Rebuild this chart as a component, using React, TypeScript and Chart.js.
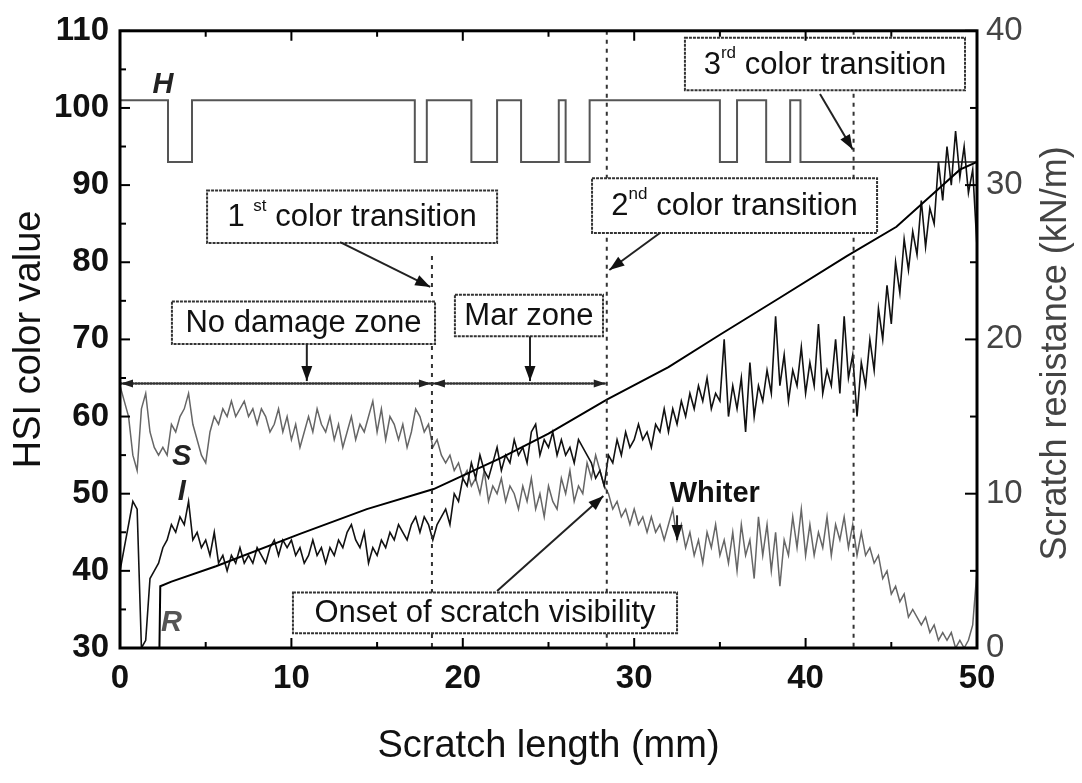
import React, { useEffect, useRef } from "react";
import { Chart, registerables } from "chart.js";

Chart.register(...registerables);

const FONT = '"Liberation Sans", Arial, Helvetica, sans-serif';

// Sampling grid of the S and I traces (mm between samples)
const TRACE_STEP_MM = 0.25;

// I (intensity) trace, HSI colour value, one sample every 0.25 mm from 0 to 50 mm
const I_VALUES = [
  40, 43, 46, 49, 48, 30, 31, 39,
  40, 41, 43, 44, 46, 45, 47, 46,
  49, 44, 45, 43, 44, 42, 45, 41,
  42, 40, 42, 41, 43, 41, 42, 41,
  43, 42, 41, 43, 44, 42, 44, 43,
  44, 42, 43, 41, 42, 44, 42, 43,
  41, 43, 42, 44, 43, 45, 46, 44,
  43, 45, 41, 43, 42, 44, 43, 45,
  44, 46, 45, 44, 46, 47, 45, 47,
  46, 44, 46, 47, 48, 46, 50, 49,
  52, 51, 54, 52, 55, 53, 52, 54,
  56, 53, 55, 54, 57, 55, 56, 54,
  58, 59, 55, 57, 56, 58, 55, 57,
  55, 56, 54, 57, 56, 55, 54, 52,
  53, 51, 55, 54, 57, 55, 58, 56,
  57, 59, 57, 58, 56, 59, 58, 61,
  58, 61, 59, 62, 60, 63, 61, 64,
  62, 65, 61, 63, 62, 70, 60, 64,
  61, 65, 58, 67, 60, 64, 62, 66,
  63, 73, 64, 68, 62, 66, 64, 69,
  63, 67, 64, 72, 63, 66, 64, 70,
  63, 73, 65, 68, 60, 67, 64, 70,
  66, 74, 70, 77, 72, 80, 76, 83,
  79, 84, 81, 88, 82, 87, 85, 93,
  88, 95, 90, 97, 91, 95, 89, 92,
  82,
];

// S (saturation) trace, same sampling grid
const S_VALUES = [
  64, 62, 60, 55, 53, 61, 63, 58,
  56, 55, 56, 55, 59, 58, 60, 61,
  63, 59, 57, 55, 54, 58, 60, 59,
  61, 60, 62, 60, 61, 62, 60, 61,
  59, 61, 60, 58, 59, 61, 58, 60,
  57, 59, 56, 58, 60, 58, 61, 59,
  58, 60, 57, 59, 56, 58, 60, 57,
  59, 58, 60, 62, 58, 61, 57, 60,
  59, 57, 59, 56, 58, 61, 60, 58,
  59, 56, 57, 55, 54, 55, 53, 54,
  52, 53, 51, 52, 50, 53, 49, 51,
  50, 52, 49, 51, 50, 48, 51, 49,
  52, 48, 50, 47, 51, 49, 48, 52,
  50, 53, 49, 51, 50, 54, 52, 55,
  53, 51, 50, 48, 49, 47, 48, 46,
  48, 46, 47, 45, 47, 45, 46, 44,
  46, 48, 44, 46, 43, 45, 42, 44,
  41, 45, 43, 46, 42, 44, 41, 45,
  40, 46, 42, 44, 39, 47, 42, 46,
  40, 45, 38, 44, 42, 47, 43, 48,
  42, 46, 42, 45, 43, 47, 42, 46,
  44, 47, 43, 46, 42, 45, 42, 43,
  41, 42, 39, 40, 37, 38, 36, 37,
  34, 35, 34, 33, 34, 32, 33, 31,
  32, 31, 32, 30, 31, 30, 31, 33,
  40,
];

// R: scratch resistance (kN/m) on the right axis
const R_LENGTH = [0, 2.3, 2.35, 3, 5.6, 10.5, 14.4, 18.3, 22.2, 25, 28.4, 32, 35, 38.5, 42.4, 45.3, 47.7, 49, 50];
const R_RESISTANCE = [0, 0, 4.0, 4.3, 5.3, 7.4, 9.0, 10.3, 12.3, 13.9, 16.1, 18.2, 20.3, 22.7, 25.4, 27.3, 29.7, 31.0, 31.5];

// H (hue) step trace
const H_LENGTH = [0, 2.8, 4.2, 17.2, 17.9, 20.5, 22.0, 23.4, 25.6, 26.0, 27.4, 35.0, 36.0, 37.7, 39.1, 39.7, 50];
const H_VALUES = [101, 93, 101, 93, 101, 93, 101, 93, 101, 93, 101, 93, 101, 93, 101, 93, 93];

// Tick labels
const X_TICKS = [0, 10, 20, 30, 40, 50];
const HSI_TICKS = [30, 40, 50, 60, 70, 80, 90, 100, 110];
const R_TICKS = [0, 10, 20, 30, 40];

// Annotations (data coordinates: x in mm, y in HSI units)
const V_LINES = [
  { x: 18.2, y0: 80.8, y1: 30 },
  { x: 28.4, y0: 110, y1: 30 },
  { x: 42.8, y0: 110, y1: 30 },
];

type Run = { t: string; sup?: boolean };
const BOXES: { x0: number; x1: number; y0: number; y1: number; runs: Run[] }[] = [
  { x0: 5.08, x1: 22.0, y0: 89.3, y1: 82.5, runs: [{ t: "1 " }, { t: "st", sup: true }, { t: " color transition" }] },
  { x0: 27.54, x1: 44.17, y0: 90.9, y1: 83.8, runs: [{ t: "2" }, { t: "nd", sup: true }, { t: " color transition" }] },
  { x0: 32.96, x1: 49.3, y0: 109.1, y1: 102.3, runs: [{ t: "3" }, { t: "rd", sup: true }, { t: " color transition" }] },
  { x0: 3.03, x1: 18.38, y0: 74.9, y1: 69.4, runs: [{ t: "No damage zone" }] },
  { x0: 19.54, x1: 28.18, y0: 75.8, y1: 70.4, runs: [{ t: "Mar zone" }] },
  { x0: 10.09, x1: 32.5, y0: 37.2, y1: 31.9, runs: [{ t: "Onset of scratch visibility" }] },
];

const ARROWS = [
  { x0: 12.84, y0: 82.6, x1: 18.1, y1: 76.8 },
  { x0: 31.5, y0: 83.8, x1: 28.55, y1: 79.0 },
  { x0: 40.84, y0: 101.8, x1: 42.75, y1: 94.6 },
  { x0: 10.9, y0: 69.4, x1: 10.9, y1: 64.6 },
  { x0: 23.92, y0: 70.4, x1: 23.92, y1: 64.6 },
  { x0: 22.0, y0: 37.4, x1: 28.2, y1: 49.7 },
  { x0: 32.5, y0: 47.2, x1: 32.5, y1: 44.0 },
];

const ZONE_SPANS = [
  { x0: 0, x1: 18.2, y: 64.3 },
  { x0: 18.2, x1: 28.4, y: 64.3 },
];

const CURVE_LABELS = [
  { t: "H", x: 2.5, y: 103 },
  { t: "S", x: 3.6, y: 54.7 },
  { t: "I", x: 3.6, y: 50.2 },
  { t: "R", x: 3.0, y: 33.3 },
];

const font = (size: number, weight = "normal", style = "normal") =>
  `${style} ${weight} ${size}px ${FONT}`;

function drawArrow(ctx: CanvasRenderingContext2D, x0: number, y0: number, x1: number, y1: number, head = 14, half = 5) {
  ctx.beginPath();
  ctx.moveTo(x0, y0);
  ctx.lineTo(x1, y1);
  ctx.stroke();
  const a = Math.atan2(y1 - y0, x1 - x0);
  const c = Math.cos(a), s = Math.sin(a);
  ctx.beginPath();
  ctx.moveTo(x1, y1);
  ctx.lineTo(x1 - head * c + half * s, y1 - head * s - half * c);
  ctx.lineTo(x1 - head * c - half * s, y1 - head * s + half * c);
  ctx.closePath();
  ctx.fill();
}

function drawRuns(ctx: CanvasRenderingContext2D, runs: Run[], cx: number, cy: number, size: number) {
  const parts = runs.map((r) => {
    const f = r.sup ? font(size * 0.55) : font(size);
    ctx.font = f;
    return { r, f, w: ctx.measureText(r.t).width };
  });
  const total = parts.reduce((a, p) => a + p.w, 0);
  let x = cx - total / 2;
  ctx.textAlign = "left";
  ctx.textBaseline = "middle";
  for (const p of parts) {
    ctx.font = p.f;
    ctx.fillText(p.r.t, x, p.r.sup ? cy - size * 0.38 : cy);
    x += p.w;
  }
}

const overlayPlugin = {
  id: "overlay",
  afterDatasetsDraw(chart: any) {
    const ctx: CanvasRenderingContext2D = chart.ctx;
    const xs = chart.scales.x;
    const ys = chart.scales.y;
    const y1s = chart.scales.y1;
    const X = (v: number) => xs.getPixelForValue(v);
    const Y = (v: number) => ys.getPixelForValue(v);
    const { left, right, top, bottom } = chart.chartArea;
    ctx.save();

    // vertical dashed transition lines
    ctx.strokeStyle = "#333";
    ctx.lineWidth = 2;
    ctx.setLineDash([4, 5]);
    for (const l of V_LINES) {
      ctx.beginPath();
      ctx.moveTo(X(l.x), Y(l.y0));
      ctx.lineTo(X(l.x), Y(l.y1));
      ctx.stroke();
    }

    // zone spans (double arrows)
    ctx.fillStyle = "#222";
    ctx.strokeStyle = "#333";
    for (const z of ZONE_SPANS) {
      const xa = X(z.x0), xb = X(z.x1), yy = Y(z.y);
      const mid = (xa + xb) / 2;
      ctx.setLineDash([2, 1]);
      ctx.beginPath();
      ctx.moveTo(xa, yy);
      ctx.lineTo(xb, yy);
      ctx.stroke();
      ctx.setLineDash([]);
      drawArrow(ctx, mid, yy, xa + 1, yy, 12, 4);
      drawArrow(ctx, mid, yy, xb - 1, yy, 12, 4);
    }

    // boxes
    for (const b of BOXES) {
      const bx = X(b.x0), by = Y(b.y0), bw = X(b.x1) - bx, bh = Y(b.y1) - by;
      ctx.setLineDash([]);
      ctx.fillStyle = "#fff";
      ctx.fillRect(bx, by, bw, bh);
      ctx.setLineDash([3, 1]);
      ctx.strokeStyle = "#333";
      ctx.lineWidth = 2;
      ctx.strokeRect(bx, by, bw, bh);
      ctx.fillStyle = "#111";
      drawRuns(ctx, b.runs, bx + bw / 2, by + bh / 2 + 1, 31);
    }

    // arrows
    ctx.setLineDash([]);
    ctx.strokeStyle = "#222";
    ctx.fillStyle = "#111";
    ctx.lineWidth = 2;
    for (const a of ARROWS) {
      drawArrow(ctx, X(a.x0), Y(a.y0), X(a.x1), Y(a.y1), 15, 5.5);
    }

    // "Whiter" label
    ctx.fillStyle = "#111";
    ctx.font = font(29, "bold");
    ctx.textAlign = "center";
    ctx.textBaseline = "middle";
    ctx.fillText("Whiter", X(34.7), Y(50.0));

    // curve labels
    ctx.font = font(29, "bold", "italic");
    for (const c of CURVE_LABELS) {
      ctx.fillStyle = c.t === "R" ? "#555" : "#222";
      ctx.fillText(c.t, X(c.x), Y(c.y));
    }

    // frame
    ctx.setLineDash([]);
    ctx.strokeStyle = "#000";
    ctx.lineWidth = 3;
    ctx.strokeRect(left, top, right - left, bottom - top);

    // inward ticks
    ctx.lineWidth = 2;
    for (let v = 0; v <= 50; v += 5) {
      const len = v % 10 === 0 ? 10 : 6;
      const x = X(v);
      ctx.beginPath();
      ctx.moveTo(x, bottom);
      ctx.lineTo(x, bottom - len);
      ctx.moveTo(x, top);
      ctx.lineTo(x, top + len);
      ctx.stroke();
    }
    for (let v = 30; v <= 110; v += 5) {
      const len = v % 10 === 0 ? 10 : 6;
      const y = Y(v);
      ctx.beginPath();
      ctx.moveTo(left, y);
      ctx.lineTo(left + len, y);
      ctx.stroke();
    }
    for (let v = 0; v <= 40; v += 5) {
      const len = v % 10 === 0 ? 12 : 7;
      const y = y1s.getPixelForValue(v);
      ctx.beginPath();
      ctx.moveTo(right, y);
      ctx.lineTo(right - len, y);
      ctx.stroke();
    }

    // right axis title (reads bottom to top)
    ctx.save();
    ctx.translate(1056, (top + bottom) / 2 + 14);
    ctx.rotate(-Math.PI / 2);
    ctx.fillStyle = "#444";
    ctx.font = font(36);
    ctx.textAlign = "center";
    ctx.textBaseline = "middle";
    ctx.fillText("Scratch resistance (kN/m)", 0, 0);
    ctx.restore();

    ctx.restore();
  },
};

export default function App() {
  const canvasRef = useRef<HTMLCanvasElement | null>(null);

  useEffect(() => {
    if (!canvasRef.current) return;
    const iData = I_VALUES.map((v, i) => ({ x: i * TRACE_STEP_MM, y: v }));
    const sData = S_VALUES.map((v, i) => ({ x: i * TRACE_STEP_MM, y: v }));
    const rData = R_LENGTH.map((x, i) => ({ x, y: R_RESISTANCE[i] }));
    const hData = H_LENGTH.map((x, i) => ({ x, y: H_VALUES[i] }));

    const tickFont = { family: FONT, size: 33, weight: "bold" as const };

    const chart = new Chart(canvasRef.current, {
      type: "line",
      data: {
        datasets: [
          { label: "R", data: rData, yAxisID: "y1", borderColor: "#000", borderWidth: 2, pointRadius: 0 },
          { label: "I", data: iData, yAxisID: "y", borderColor: "#111", borderWidth: 1.6, pointRadius: 0 },
          { label: "S", data: sData, yAxisID: "y", borderColor: "#666", borderWidth: 1.5, pointRadius: 0 },
          { label: "H", data: hData, yAxisID: "y", borderColor: "#555", borderWidth: 2, pointRadius: 0, stepped: "before" },
        ],
      },
      options: {
        responsive: false,
        devicePixelRatio: 1,
        animation: false,
        events: [],
        layout: { padding: { top: 23, left: 0, right: 0, bottom: 0 } },
        plugins: { legend: { display: false }, tooltip: { enabled: false } },
        scales: {
          x: {
            type: "linear",
            min: 0,
            max: 50,
            afterBuildTicks: (s: any) => { s.ticks = X_TICKS.map((value) => ({ value })); },
            afterFit: (s: any) => { s.height = 135; },
            grid: { display: false, drawTicks: false },
            border: { display: false },
            ticks: { font: tickFont, color: "#111", padding: 11, maxRotation: 0, autoSkip: false },
            title: {
              display: true,
              text: "Scratch length (mm)",
              font: { family: FONT, size: 38 },
              color: "#111",
              padding: { top: 0, bottom: 14 },
            },
          },
          y: {
            type: "linear",
            position: "left",
            min: 30,
            max: 110,
            afterBuildTicks: (s: any) => { s.ticks = HSI_TICKS.map((value) => ({ value })); },
            afterFit: (s: any) => { s.width = 120; },
            grid: { display: false, drawTicks: false },
            border: { display: false },
            ticks: { font: tickFont, color: "#111", padding: 11 },
            title: {
              display: true,
              text: "HSI color value",
              font: { family: FONT, size: 38 },
              color: "#111",
              padding: { top: 7, bottom: 0 },
            },
          },
          y1: {
            type: "linear",
            position: "right",
            min: 0,
            max: 40,
            afterBuildTicks: (s: any) => { s.ticks = R_TICKS.map((value) => ({ value })); },
            afterFit: (s: any) => { s.width = 105; },
            grid: { display: false, drawTicks: false },
            border: { display: false },
            ticks: { font: { family: FONT, size: 33 }, color: "#444", padding: 9 },
          },
        },
      },
      plugins: [overlayPlugin],
    });
    return () => chart.destroy();
  }, []);

  return (
    <div style={{ position: "absolute", left: 0, top: 0, width: 1082, height: 783, background: "#fff" }}>
      <canvas ref={canvasRef} width={1082} height={783} style={{ width: 1082, height: 783, display: "block" }} />
    </div>
  );
}
